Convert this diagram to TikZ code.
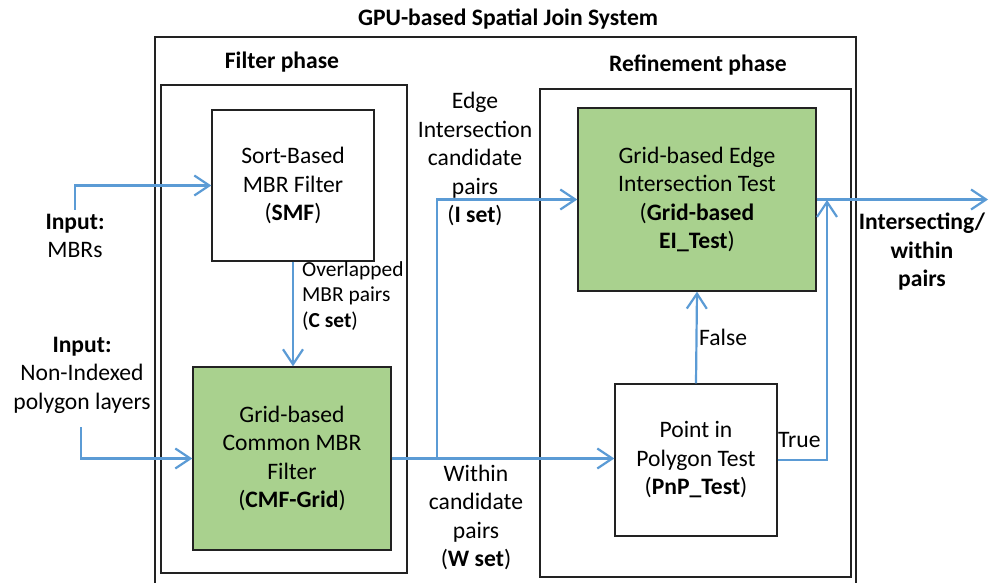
\documentclass[tikz,border=0pt]{standalone}
\usepackage{fontspec}
\setmainfont{Carlito}
\usetikzlibrary{arrows.meta}
\definecolor{lblue}{HTML}{5B9BD5}
\definecolor{lgreen}{HTML}{A9D18E}
\definecolor{frame}{HTML}{222222}
\tikzset{
  box/.style={draw=frame, line width=1.4pt, align=center, inner sep=2pt,
              font=\fontsize{23.6}{28.5}\selectfont},
  gbox/.style={box, fill=lgreen},
  wbox/.style={box, fill=white},
  phase/.style={draw=frame, line width=1.3pt},
  lbl/.style={align=center, inner sep=0pt, font=\fontsize{23.6}{28.5}\selectfont},
  slbl/.style={align=left, inner sep=0pt, font=\fontsize{21.4}{25.5}\selectfont},
  hdr/.style={inner sep=0pt, font=\fontsize{23.6}{28}\selectfont\bfseries},
  arr/.style={draw=lblue, line width=2.2pt, -{Straight Barb[length=15pt,width=20pt,line width=2.2pt]}},
  ln/.style={draw=lblue, line width=2.2pt}
}
\begin{document}
\begin{tikzpicture}[x=1pt,y=-1pt]
\useasboundingbox (0,0) rectangle (989,583);
% outer system frame
\draw[phase] (155,590) -- (155,37) -- (856,37) -- (856,590);
\node[hdr] (title) at (508,19) {GPU-based Spatial Join System};
% phases
\draw[phase] (161,85) rectangle (407,573);
\node[hdr] (fp) at (282,62) {Filter phase};
\draw[phase] (540,89) rectangle (851,577);
\node[hdr] (rp) at (698,65) {Refinement phase};
% boxes
\node[wbox, minimum width=162pt, minimum height=151pt] (smf) at (293,185.5)
  {Sort-Based\\MBR Filter\\(\textbf{SMF})};
\node[gbox, minimum width=198pt, minimum height=183pt] (cmf) at (292,458.5)
  {Grid-based\\Common MBR\\Filter\\(\textbf{CMF-Grid})};
\node[gbox, minimum width=238pt, minimum height=183pt] (ei) at (697,199.5)
  {Grid-based Edge\\Intersection Test\\(\textbf{Grid-based}\\\textbf{EI\_Test})};
\node[wbox, minimum width=162pt, minimum height=152pt] (pnp) at (696,460)
  {Point in\\Polygon Test\\(\textbf{PnP\_Test})};
% input labels
\node[lbl] (inA) at (75,236) {\textbf{Input:}\\MBRs};
\node[lbl] (inB) at (82,375) {\textbf{Input:}\\Non-Indexed\\polygon layers};
\coordinate (inAt) at (75,210);
\coordinate (inBt) at (81,427);
% edge labels
\node[slbl, anchor=north west] (cset) at (302,261) {Overlapped\\MBR pairs\\(\textbf{C set})};
\node[lbl] (iset) at (475,159) {Edge\\Intersection\\candidate\\pairs\\(\textbf{I set})};
\node[lbl] (wset) at (476,517.5) {Within\\candidate\\pairs\\(\textbf{W set})};
\node[lbl, anchor=west] (false) at (699,337) {False};
\node[lbl, anchor=west] (true) at (778,440) {True};
\node[lbl, font=\fontsize{23.6}{28.5}\selectfont\bfseries] (out) at (922,252) {Intersecting/\\within\\pairs};
% connectors
\draw[arr] (inAt) |- (smf.west);
\draw[arr] (inBt) |- (cmf.west);
\draw[arr] (smf.south) -- (smf.south |- cmf.north);
\draw[arr] (cmf.east) -- (pnp.west |- cmf.east);
\coordinate (br) at (437,458.5);
\draw[arr] (br) |- (ei.west);
\draw[arr] (pnp.north) -- (ei.south);
\coordinate (tt) at (827,200);
\draw[arr] (pnp.east) -| (tt);
\coordinate (outt) at (988,199.5);
\draw[arr] (ei.east) -- (outt);
\end{tikzpicture}
\end{document}
